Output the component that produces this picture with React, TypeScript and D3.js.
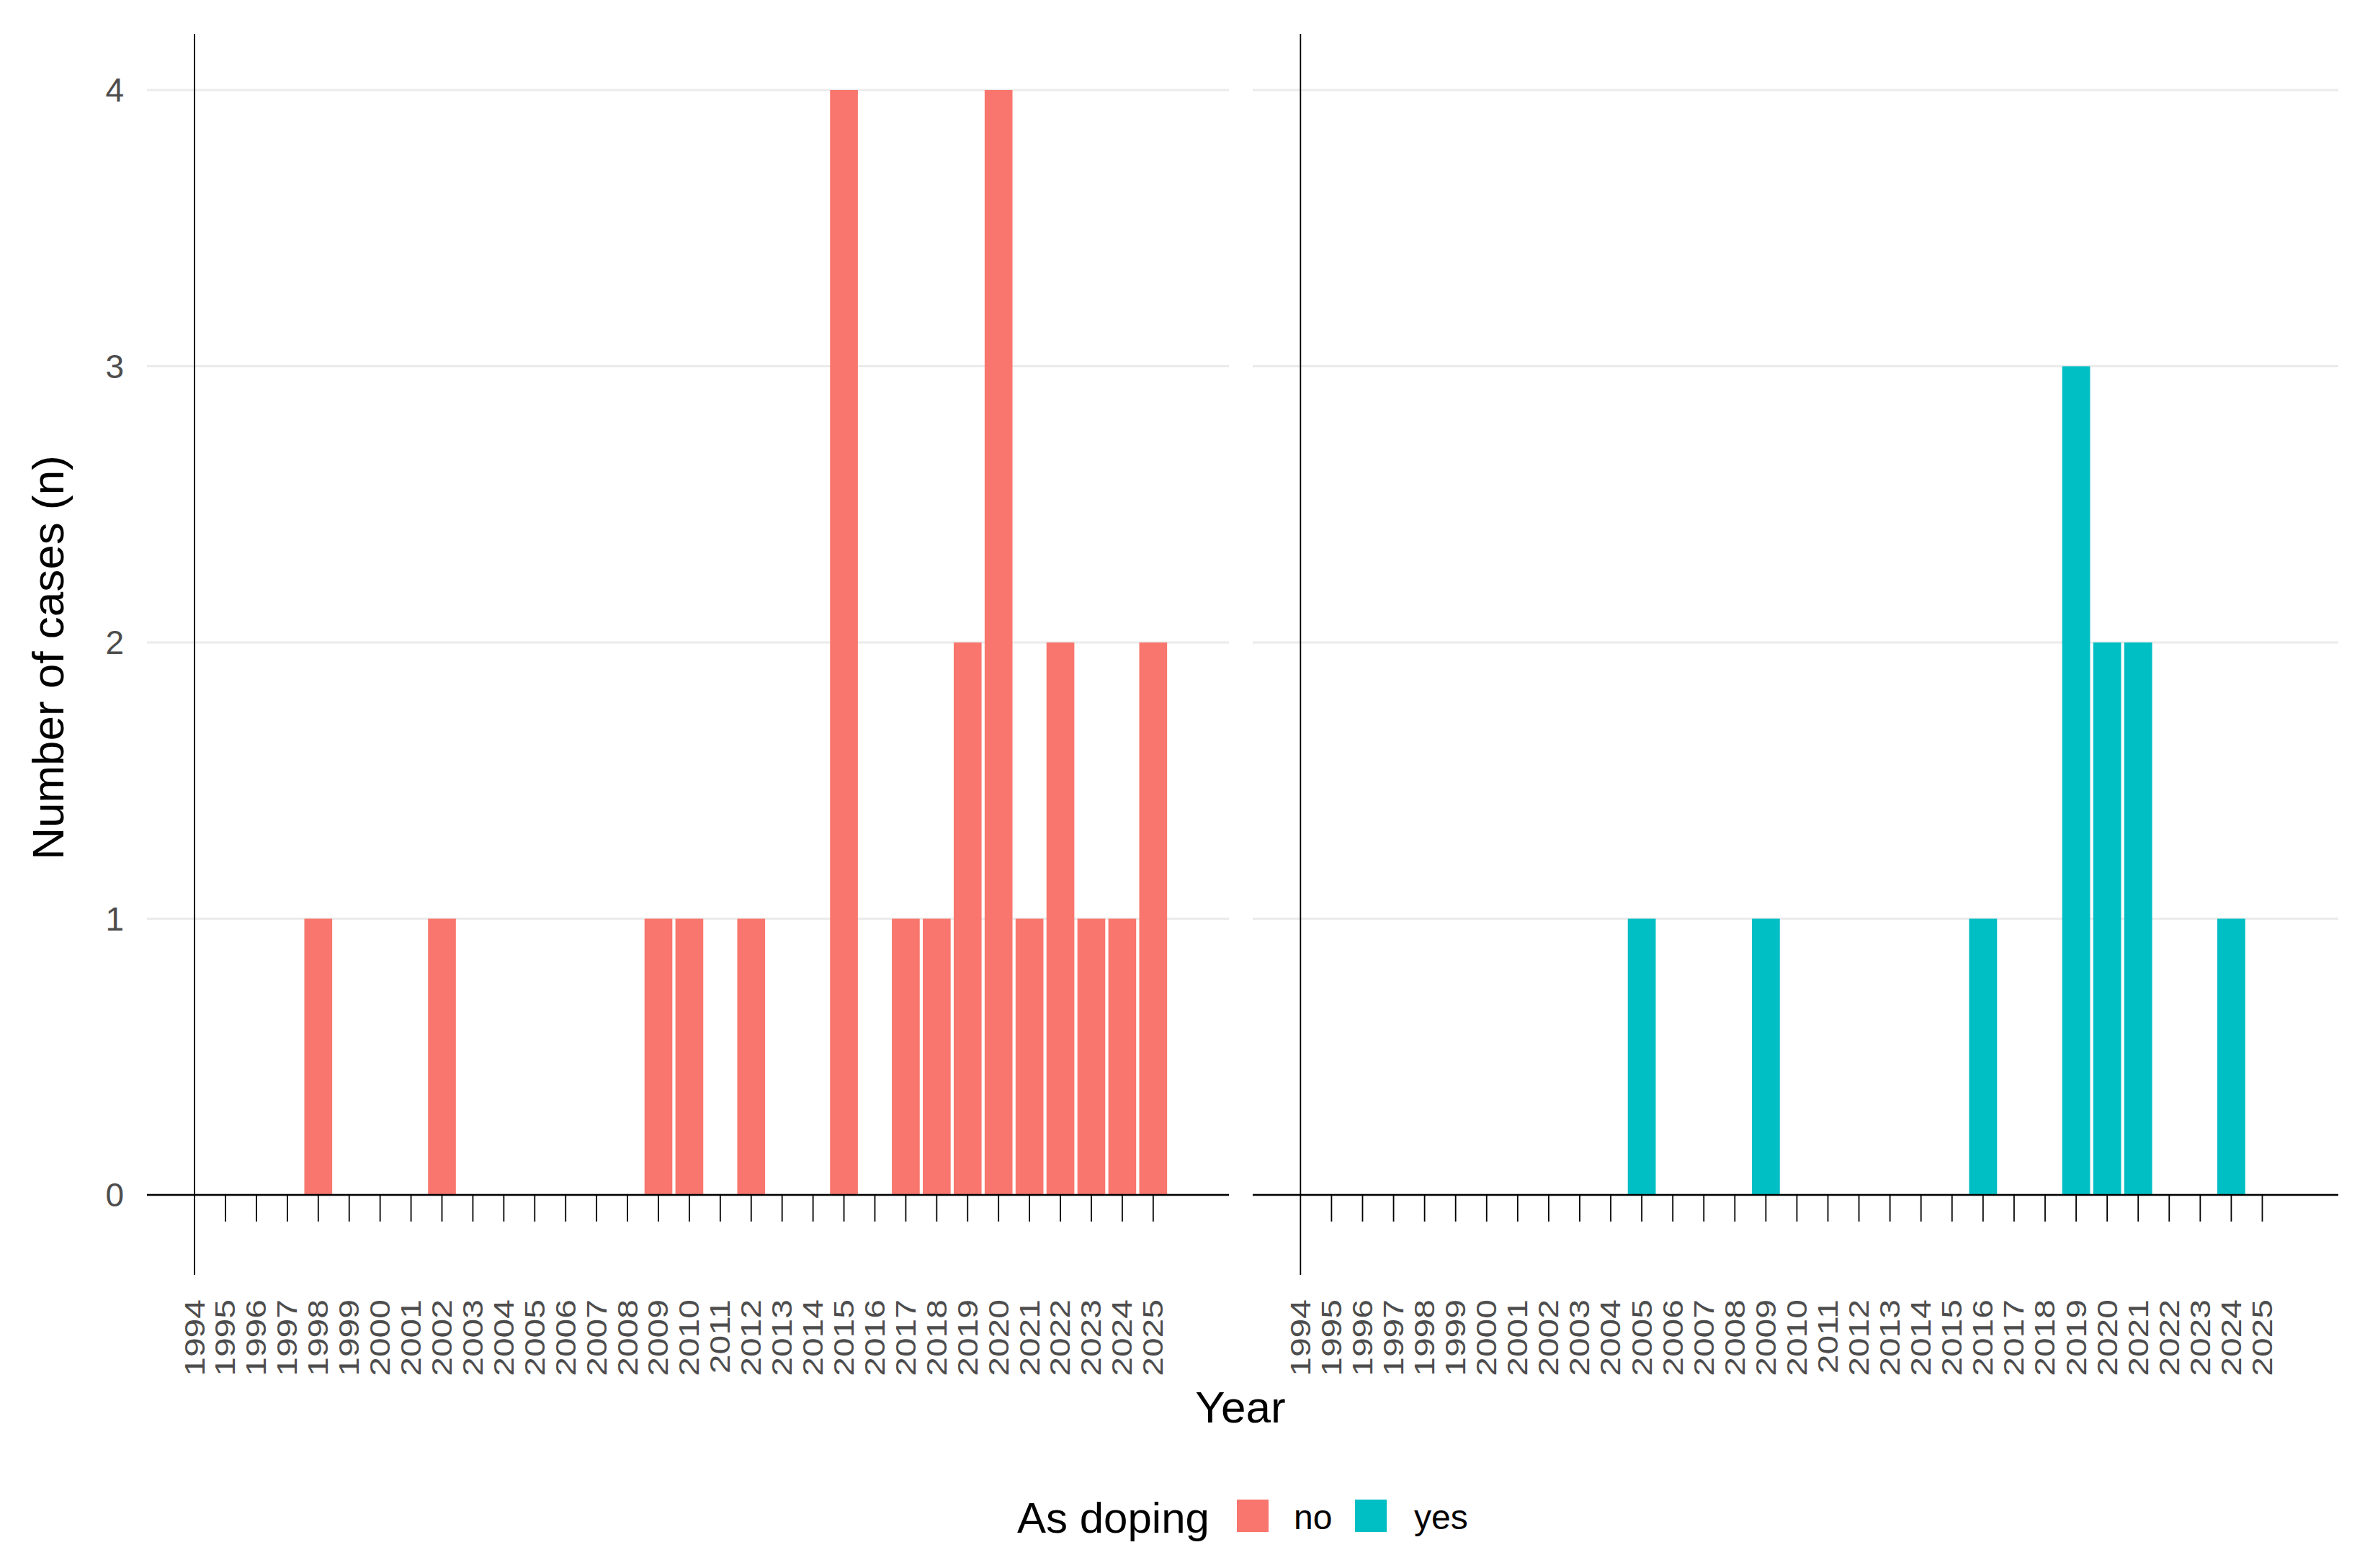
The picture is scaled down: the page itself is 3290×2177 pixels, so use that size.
import React from "react";
import * as d3 from "d3";

const years: number[] = d3.range(1994, 2026);
const noYears = [1998, 2002, 2009, 2010, 2012, 2015, 2017, 2018, 2019, 2020, 2021, 2022, 2023, 2024, 2025];
const noCounts = [1, 1, 1, 1, 1, 4, 1, 1, 2, 4, 1, 2, 1, 1, 2];
const yesYears = [2005, 2009, 2016, 2019, 2020, 2021, 2024];
const yesCounts = [1, 1, 1, 3, 2, 2, 1];
const yTicks = [0, 1, 2, 3, 4];
const panels = [
  { key: "no", label: "no", color: "#F8766D", years: noYears, counts: noCounts, range: [204, 1706], showY: true },
  { key: "yes", label: "yes", color: "#00BFC4", years: yesYears, counts: yesCounts, range: [1739, 3246], showY: false },
];

const FONT = "'Liberation Sans', Arial, Helvetica, sans-serif";

export default function App() {
  const W = 3290, H = 2177;
  const y = d3.scaleLinear().domain([0, 4]).range([1659, 125]);
  const barW = 0.9;
  return (
    <svg width={W} height={H} style={{ position: "absolute", left: 0, top: 0, background: "#fff" }} fontFamily={FONT}>
      <rect x={0} y={0} width={W} height={H} fill="#fff" />
      {panels.map((p) => {
        const x = d3.scaleLinear().domain([1992.46, 2027.45]).range(p.range as [number, number]);
        const s = x(1) - x(0);
        return (
          <g key={p.key}>
            {yTicks.map((t) => (
              <line key={t} x1={p.range[0]} x2={p.range[1]} y1={y(t)} y2={y(t)} stroke="#EBEBEB" strokeWidth={3} />
            ))}
            {p.years.map((yr, i) => (
              <rect key={yr} x={x(yr) - (barW / 2) * s} width={barW * s} y={y(p.counts[i])} height={y(0) - y(p.counts[i])} fill={p.color} />
            ))}
            <line x1={p.range[0]} x2={p.range[1]} y1={y(0)} y2={y(0)} stroke="#000" strokeWidth={2.5} />
            <line x1={x(1994)} x2={x(1994)} y1={47} y2={1770} stroke="#000" strokeWidth={1.8} />
            {years.slice(1).map((yr) => (
              <line key={yr} x1={x(yr)} x2={x(yr)} y1={y(0)} y2={1696} stroke="#000" strokeWidth={1.8} />
            ))}
            {years.map((yr) => (
              <text key={yr} transform={`translate(${x(yr)},1804) scale(0.8,1) rotate(-90)`} textAnchor="end" dy="0.35em" fontSize={48} fill="#4D4D4D">
                {yr}
              </text>
            ))}
            {p.showY &&
              yTicks.map((t) => (
                <text key={t} x={172} y={y(t)} dy="0.35em" textAnchor="end" fontSize={46} fill="#4D4D4D">
                  {t}
                </text>
              ))}
          </g>
        );
      })}
      <text transform="translate(88,913) rotate(-90)" textAnchor="middle" fontSize={62} fill="#000">
        Number of cases (n)
      </text>
      <text x={1722} y={1975} textAnchor="middle" fontSize={62} fill="#000">
        Year
      </text>
      <g>
        <text x={1412} y={2128} fontSize={60} fill="#000">As doping</text>
        {panels.map((p, i) => {
          const kx = i === 0 ? 1717 : 1881;
          const tx = i === 0 ? 1796 : 1963;
          return (
            <g key={p.key}>
              <rect x={kx} y={2082} width={44} height={45} fill={p.color} />
              <text x={tx} y={2123} fontSize={48} fill="#000">{p.label}</text>
            </g>
          );
        })}
      </g>
    </svg>
  );
}
